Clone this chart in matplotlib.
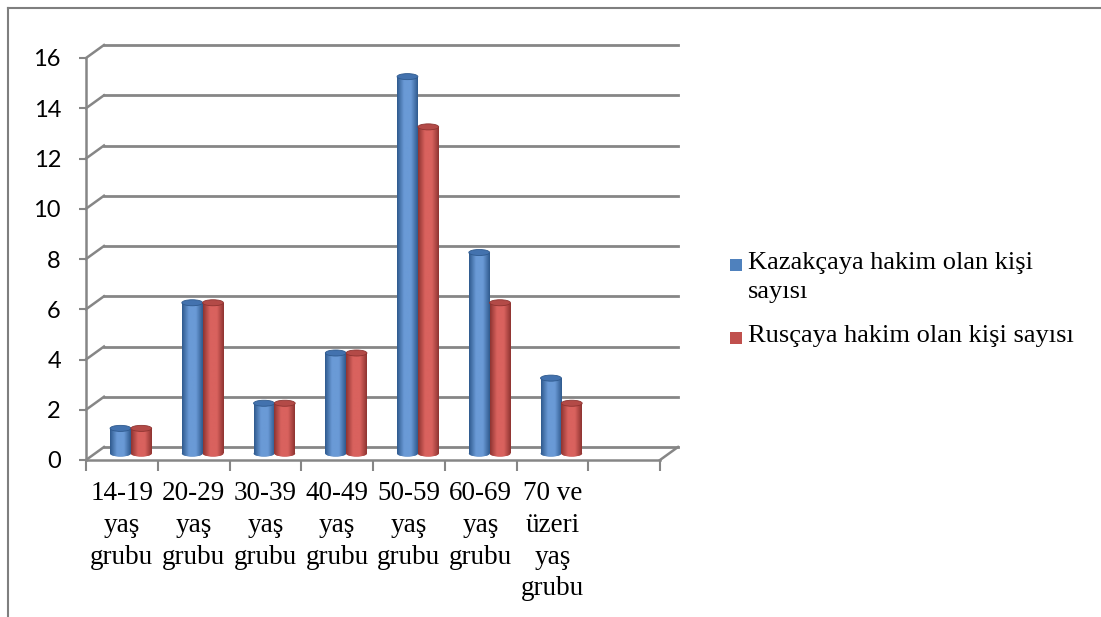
import numpy as np
import matplotlib
matplotlib.use("Agg")
import matplotlib.pyplot as plt
from matplotlib.patches import Rectangle, Ellipse
from matplotlib.colors import LinearSegmentedColormap
from matplotlib.transforms import ScaledTranslation

# ---- data ----
categories = ["14-19\nyaş\ngrubu", "20-29\nyaş\ngrubu", "30-39\nyaş\ngrubu",
              "40-49\nyaş\ngrubu", "50-59\nyaş\ngrubu", "60-69\nyaş\ngrubu",
              "70 ve\nüzeri\nyaş\ngrubu", ""]
kazakca = [1, 6, 2, 4, 15, 8, 3, None]
rusca = [1, 6, 2, 4, 13, 6, 2, None]
series_names = ["Kazakçaya hakim olan kişi\nsayısı", "Rusçaya hakim olan kişi sayısı"]
yticks = [0, 2, 4, 6, 8, 10, 12, 14, 16]

blue = "#4F81BD"
red = "#C0504D"
grid_col = "#868686"

fig = plt.figure(figsize=(11.01, 6.17), dpi=100)
W, H = 1101, 617
ax = fig.add_axes([86 / W, (617 - 460) / H, (660 - 86) / W, (460 - 58) / H])
ax.set_xlim(0, 8)
ax.set_ylim(0, 16)
ax.patch.set_visible(False)

# outer border (top and left only visible)
fig.add_artist(plt.Line2D([8 / W, 1.0], [1 - 8 / H, 1 - 8 / H], color="#7f7f7f", lw=1.5,
                          transform=fig.transFigure))
fig.add_artist(plt.Line2D([8 / W, 8 / W], [0, 1 - 8 / H], color="#7f7f7f", lw=1.5,
                          transform=fig.transFigure))

# depth offsets (pixels -> inches)
back = ax.transData + ScaledTranslation(18 / 100, 13 / 100, fig.dpi_scale_trans)
mid = ax.transData + ScaledTranslation(9 / 100, 6.5 / 100, fig.dpi_scale_trans)

# back wall gridlines and side diagonals
for v in yticks:
    ax.plot([0, 8], [v, v], color=grid_col, lw=2, transform=back, clip_on=False, zorder=1)
    p0 = ax.transData.transform((0, v))
    p1 = back.transform((0, v))
    fig.add_artist(plt.Line2D([p0[0] / W, p1[0] / W], [p0[1] / H, p1[1] / H],
                              color=grid_col, lw=1.8, transform=fig.transFigure))
p0 = ax.transData.transform((8, 0))
p1 = back.transform((8, 0))
fig.add_artist(plt.Line2D([p0[0] / W, p1[0] / W], [p0[1] / H, p1[1] / H],
                          color=grid_col, lw=1.8, transform=fig.transFigure))

# spines / ticks
for s in ["top", "right"]:
    ax.spines[s].set_visible(False)
for s in ["left", "bottom"]:
    ax.spines[s].set_color(grid_col)
    ax.spines[s].set_linewidth(1.8)
ax.set_yticks(yticks)
ax.set_yticklabels([str(v) for v in yticks], fontfamily="Lato", fontsize=17)
ax.tick_params(axis="y", length=5, width=1.5, color=grid_col, pad=13)
ax.set_xticks(np.arange(0, 9))
ax.set_xticklabels([])
ax.tick_params(axis="x", which="major", length=8, width=1.5, color=grid_col)
ax.set_xticks(np.arange(len(categories)) + 0.5, minor=True)
ax.set_xticklabels(categories, minor=True, fontfamily="Liberation Serif", fontsize=19.5,
                   linespacing=1.36, va="top")
ax.tick_params(axis="x", which="minor", length=0, pad=15)

# cylinders
bw = 0.29
cap_h = 0.24
def cmap_for(c_dark, c_light):
    return LinearSegmentedColormap.from_list("g", [c_dark, c_light, c_light, c_dark], N=64)
cmaps = [cmap_for("#2F5A8E", "#6A9AD6"), cmap_for("#8E3431", "#D9625E")]
caps = ["#4372AE", "#B34A47"]
grad = np.linspace(0, 1, 64).reshape(1, -1)
for si, (vals, off, col) in enumerate([(kazakca, -bw / 2, blue), (rusca, bw / 2, red)]):
    for i, v in enumerate(vals):
        if v is None:
            continue
        xc = i + 0.5 + off
        x0 = xc - bw / 2
        bottom_ell = Ellipse((xc, 0), bw, cap_h, transform=mid, facecolor=cmaps[si](0.15),
                             edgecolor="none", zorder=3)
        ax.add_patch(bottom_ell)
        rect = Rectangle((x0, 0), bw, v, transform=mid, facecolor=col, edgecolor="none", zorder=3)
        ax.add_patch(rect)
        im = ax.imshow(grad, cmap=cmaps[si], aspect="auto", extent=(x0, x0 + bw, 0, v),
                       zorder=3.5, interpolation="bilinear")
        im.set_transform(mid)
        im.set_clip_path(rect)
        im2 = ax.imshow(grad, cmap=cmaps[si], aspect="auto",
                        extent=(x0, x0 + bw, -cap_h / 2, 0), zorder=3.5, interpolation="bilinear")
        im2.set_transform(mid)
        im2.set_clip_path(bottom_ell)
        ax.add_patch(Ellipse((xc, v), bw, cap_h, transform=mid, facecolor=caps[si],
                             edgecolor=cmaps[si](0.0), lw=0.6, zorder=4))
ax.set_xlim(0, 8)
ax.set_ylim(0, 16)

# legend (drawn manually so the key aligns with the first text line)
leg_rows = [265, 338]  # pixel centre of first line of each entry
for name, col, yc in zip(series_names, [blue, red], leg_rows):
    fig.add_artist(Rectangle((730 / W, 1 - (yc + 6) / H), 12 / W, 12 / H, facecolor=col,
                             edgecolor="none", transform=fig.transFigure))
    fig.text(748 / W, 1 - (yc - 13) / H, name, ha="left", va="top",
             fontfamily="Liberation Serif", fontsize=19, linespacing=1.42)

fig.savefig("out.png", dpi=100)
